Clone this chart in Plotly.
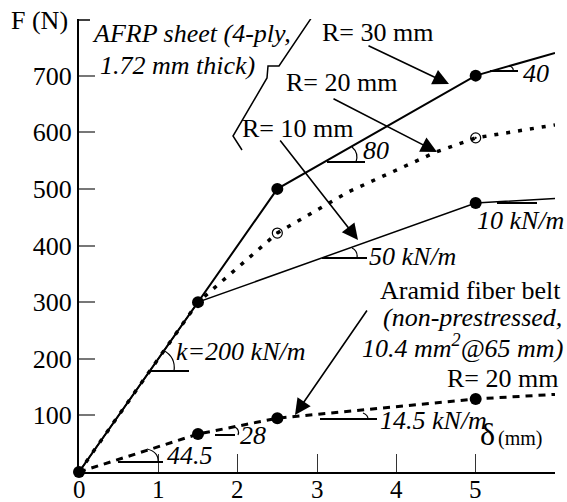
import plotly.graph_objects as go

# ---- data ----
delta_r30 = [0, 1.5, 2.5, 5.0, 6.0]
force_r30 = [0, 300, 500, 700, 740]

delta_r20 = [0, 1.5, 2.5, 3.4, 4.5, 5.0, 6.0]
force_r20 = [0, 300, 422, 495, 565, 590, 613]

delta_r10 = [0, 1.5, 5.0, 6.0]
force_r10 = [0, 300, 475, 483]

delta_aramid = [0, 1.5, 2.5, 5.0, 6.0]
force_aramid = [0, 67, 95, 129, 137]

solid_pts_x = [0, 1.5, 2.5, 5.0, 5.0, 1.5, 2.5, 5.0]
solid_pts_y = [0, 300, 500, 700, 475, 67, 95, 129]
open_pts_x = [2.5, 5.0]
open_pts_y = [422, 590]

x_ticks = [0, 1, 2, 3, 4, 5]
y_ticks = [100, 200, 300, 400, 500, 600, 700]

# ---- layout geometry ----
W, H = 567, 502
L, R, T, B = 79, 12, 19, 30
XMAX, YMAX = 6.0, 800
PW, PH = W - L - R, H - B - T

def P(xp, yp):
    """pixel -> data coords (for decorations only)"""
    return (xp - L) / PW * XMAX, (H - B - yp) / PH * YMAX

def Q(xp, yp):
    """pixel -> paper coords"""
    return (xp - L) / PW, (H - B - yp) / PH

FONT = "Liberation Serif"
FS = 26

fig = go.Figure()
fig.add_trace(go.Scatter(x=delta_r20, y=force_r20, mode="lines",
                         line=dict(color="black", width=3.5, dash="4px,8px"), cliponaxis=False))
fig.add_trace(go.Scatter(x=delta_aramid, y=force_aramid, mode="lines",
                         line=dict(color="black", width=3, dash="7px,6px"), cliponaxis=False))
fig.add_trace(go.Scatter(x=delta_r10, y=force_r10, mode="lines",
                         line=dict(color="black", width=1.5), cliponaxis=False))
fig.add_trace(go.Scatter(x=delta_r30, y=force_r30, mode="lines",
                         line=dict(color="black", width=2), cliponaxis=False))
fig.add_trace(go.Scatter(x=solid_pts_x, y=solid_pts_y, mode="markers",
                         marker=dict(color="black", size=12), cliponaxis=False))
fig.add_trace(go.Scatter(x=open_pts_x, y=open_pts_y, mode="markers",
                         marker=dict(color="black", size=10, symbol="circle-open-dot",
                                     line=dict(width=1.2)), cliponaxis=False))

shapes = []
def seg(p1, p2, color="black", width=1.5):
    x0, y0 = P(*p1); x1, y1 = P(*p2)
    shapes.append(dict(type="line", xref="x", yref="y", x0=x0, y0=y0, x1=x1, y1=y1,
                       line=dict(color=color, width=width)))

def poly(pts, width=1.5):
    d = ""
    for i, p in enumerate(pts):
        x, y = P(*p)
        d += ("M" if i == 0 else "L") + f"{x},{y} "
    shapes.append(dict(type="path", xref="x", yref="y", path=d,
                       line=dict(color="black", width=width)))

def arc(p0, c, p1, width=1.2):
    x0, y0 = P(*p0); cx, cy = P(*c); x1, y1 = P(*p1)
    shapes.append(dict(type="path", xref="x", yref="y",
                       path=f"M{x0},{y0} Q{cx},{cy} {x1},{y1}",
                       line=dict(color="black", width=width)))

# angle reference lines
seg((327, 162), (365, 162), width=2)
seg((490, 71), (518, 71), width=2)
seg((322, 258), (367, 258), width=2)
seg((497, 203), (537, 203), width=2)
seg((150, 371), (189, 371), width=2)
seg((215, 435), (235, 435), width=2)
seg((118, 462), (163, 462), width=2)
seg((320, 419), (377, 419), width=2)
# arcs
arc((356, 162), (359, 153), (352, 147))
arc((513, 71), (514, 68), (510, 66))
arc((357, 258), (358, 251), (352, 248))
arc((174, 371), (176, 357), (163, 350))
arc((238, 435), (240, 430), (235, 427))
arc((158, 462), (159, 452), (147, 449))
arc((368, 419), (368, 415), (363, 413))
# brace
poly([(328, 11), (316, 11), (279, 66), (268, 66), (267, 78), (233, 136), (242, 150)])
# top-left corner mark of y axis
seg((79, 20), (90, 20), width=1.5)
# small end tick on x axis
seg((556, 450), (556, 472), color="#777", width=1.5)

annotations = []
def text(s, xp, yp, size=FS, anchor="left", italic=False):
    x, y = Q(xp, yp)
    if italic:
        s = f"<i>{s}</i>"
    annotations.append(dict(text=s, x=x, y=y, xref="paper", yref="paper", xanchor=anchor,
                            yanchor="middle", showarrow=False,
                            font=dict(family=FONT, size=size, color="black")))

def arrow(tail, tip):
    tx, ty = P(*tail); hx, hy = P(*tip)
    annotations.append(dict(x=hx, y=hy, ax=tx, ay=ty, xref="x", yref="y", axref="x", ayref="y",
                            text="", showarrow=True, arrowhead=2, arrowsize=2,
                            arrowwidth=1.6, arrowcolor="black"))

text("F (N)", 9, 20)
text("AFRP sheet (4-ply,", 90, 33, italic=True)
text("1.72 mm thick)", 98, 66, italic=True)
text("R= 30 mm", 320, 32)
text("R= 20 mm", 284, 82)
text("R= 10 mm", 240, 128)
text("80", 361, 150, italic=True)
text("40", 521, 73, italic=True)
text("50 kN/m", 367, 256, italic=True)
text("10 kN/m", 475, 221, italic=True)
text("k=200 kN/m", 174, 351, italic=True)
text("Aramid fiber belt", 563, 290, anchor="right")
text("(non-prestressed,", 564, 317, anchor="right", italic=True)
text("10.4 mm<sup>2</sup>@65 mm)", 565, 347, anchor="right", italic=True)
text("R= 20 mm", 560, 378, anchor="right")
text("28", 238, 435, italic=True)
text("44.5", 165, 455, italic=True)
text("14.5 kN/m", 378, 420, italic=True)
text("δ", 478, 434, size=32)
text("(mm)", 496, 438, size=20)

# x tick labels (placed as text so they sit where the reference has them)
_, lab_y = Q(0, 489)
for v in x_ticks:
    annotations.append(dict(text=str(v), x=v, y=lab_y, xref="x", yref="paper",
                            xanchor="center", yanchor="middle", showarrow=False,
                            font=dict(family=FONT, size=25, color="black")))

arrow((367, 45), (449, 84))
arrow((332, 98), (437, 152))
arrow((279, 139), (358, 240))
arrow((368, 309), (295, 415))

fig.update_layout(
    width=W, height=H, margin=dict(l=L, r=R, t=T, b=B),
    plot_bgcolor="white", paper_bgcolor="white", showlegend=False,
    shapes=shapes, annotations=annotations,
    font=dict(family=FONT, size=FS, color="black"),
)
fig.update_xaxes(range=[0, XMAX], showgrid=False, zeroline=False, showline=True, automargin=False,
                 linecolor="black", linewidth=2, tickvals=x_ticks, showticklabels=False,
                 ticks="inside", ticklen=18, tickcolor="#333", tickwidth=1.2)
fig.update_yaxes(range=[0, YMAX], showgrid=False, zeroline=False, showline=True, automargin=False,
                 linecolor="black", linewidth=2, tickvals=y_ticks, ticktext=[str(v) for v in y_ticks],
                 ticks="inside", ticklen=16, tickcolor="#777", tickwidth=1.5,
                 tickfont=dict(family=FONT, size=FS))

fig.write_html("out.html")
